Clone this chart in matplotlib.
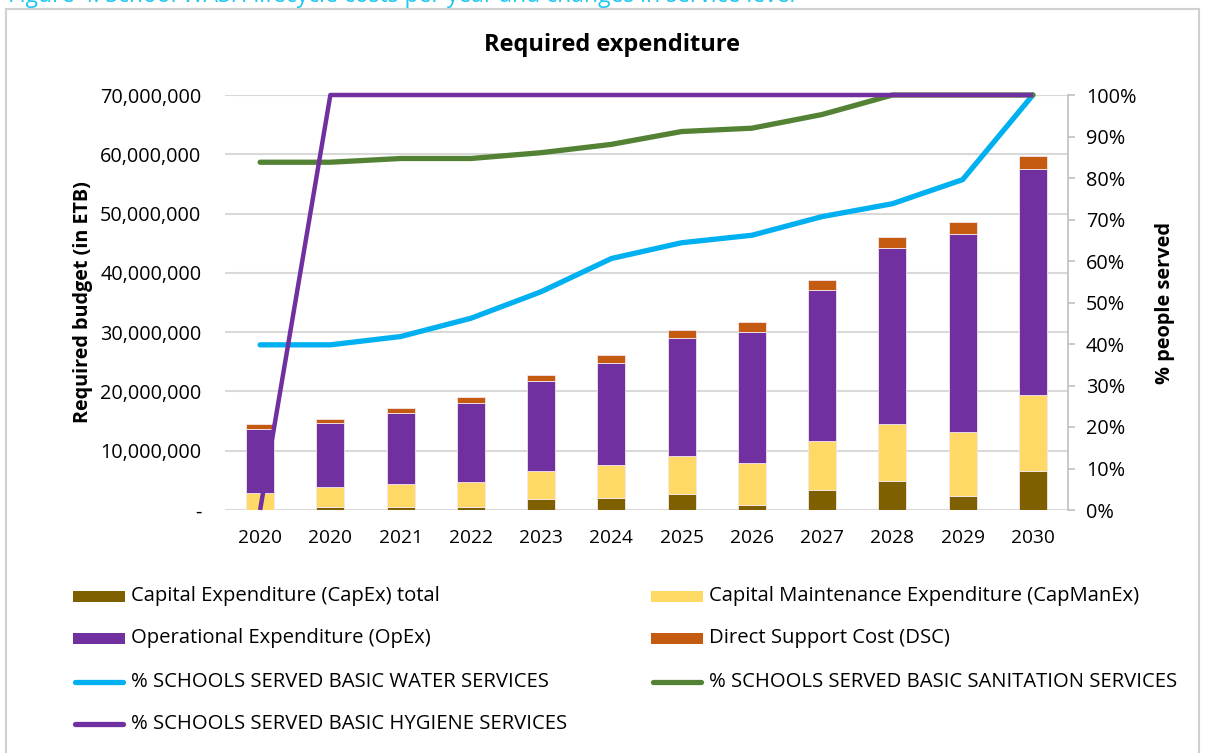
import matplotlib
matplotlib.use("Agg")
import matplotlib.pyplot as plt
import numpy as np
from matplotlib.ticker import FuncFormatter, FixedLocator
from matplotlib.patches import Rectangle
from matplotlib.lines import Line2D

plt.rcParams["font.family"] = ["Open Sans", "DejaVu Sans"]

# ---- data -------------------------------------------------------------
years = ["2020", "2020", "2021", "2022", "2023", "2024",
         "2025", "2026", "2027", "2028", "2029", "2030"]

capex = [0, 450_000, 560_000, 450_000, 1_800_000, 2_070_000,
         2_640_000, 900_000, 3_430_000, 4_950_000, 2_360_000, 6_580_000]
capmanex = [2_920_000, 3_380_000, 3_770_000, 4_220_000, 4_830_000, 5_570_000,
            6_460_000, 7_080_000, 8_270_000, 9_600_000, 10_840_000, 12_820_000]
opex = [10_680_000, 10_770_000, 11_970_000, 13_330_000, 15_070_000, 17_160_000,
        19_850_000, 22_090_000, 25_400_000, 29_650_000, 33_300_000, 38_050_000]
dsc = [900_000, 800_000, 900_000, 1_000_000, 1_150_000, 1_300_000,
       1_400_000, 1_580_000, 1_700_000, 1_900_000, 2_100_000, 2_250_000]

water = [39.8, 39.8, 41.8, 46.2, 52.6, 60.6, 64.4, 66.2, 70.7, 73.8, 79.6, 100]
sanitation = [83.8, 83.8, 84.7, 84.7, 86.1, 88.1, 91.2, 92.0, 95.3, 100, 100, 100]
hygiene = [0, 100, 100, 100, 100, 100, 100, 100, 100, 100, 100, 100]

bar_labels = ["Capital Expenditure (CapEx) total",
              "Capital Maintenance Expenditure (CapManEx)",
              "Operational Expenditure (OpEx)",
              "Direct Support Cost (DSC)"]
line_labels = ["% SCHOOLS SERVED BASIC WATER SERVICES",
               "% SCHOOLS SERVED BASIC SANITATION SERVICES",
               "% SCHOOLS SERVED BASIC HYGIENE SERVICES"]

# ---- style ------------------------------------------------------------
C_CAPEX = "#7F6000"
C_CAPMAN = "#FFD966"
C_OPEX = "#7030A0"
C_DSC = "#C55A11"
C_WATER = "#00B0F0"
C_SAN = "#548235"
C_HYG = "#7030A0"
GRID = "#D9D9D9"

W, H = 1208, 753
fig = plt.figure(figsize=(W / 100, H / 100), dpi=100)


def fx(px):
    return px / W


def fy(py):
    return 1 - py / H


# frame around the figure and the caption running off its top edge
fig.patches.append(Rectangle((fx(6), fy(760)), fx(1199) - fx(6), fy(9) - fy(760),
                             transform=fig.transFigure, fill=False,
                             edgecolor="#D0D0D0", linewidth=1.5))
fig.text(fx(8), fy(2), "Figure 4: School WASH lifecycle costs per year and changes in service level",
         color="#1EC8F0", fontsize=16.5, ha="left", va="baseline")

ax = fig.add_axes([fx(225), fy(510), fx(1068) - fx(225), fy(95) - fy(510)])

x = np.arange(len(years))
bw = 0.40
bottoms = np.zeros(len(years))
for vals, col in zip([capex, capmanex, opex, dsc], [C_CAPEX, C_CAPMAN, C_OPEX, C_DSC]):
    ax.bar(x, vals, bw, bottom=bottoms, color=col, edgecolor="#F3E6EE",
           linewidth=0.6, zorder=3)
    bottoms += np.array(vals)

ax.set_xlim(-0.5, len(years) - 0.5)
ax.set_ylim(0, 70_000_000)
ax.yaxis.set_major_locator(FixedLocator(np.arange(0, 70_000_001, 10_000_000)))
ax.yaxis.set_major_formatter(FuncFormatter(lambda v, p: "-" if v == 0 else f"{v:,.0f}"))
ax.set_xticks(x)
ax.set_xticklabels(years)
ax.grid(axis="y", color=GRID, linewidth=1.5, zorder=0)
ax.set_axisbelow(True)
for s in ax.spines.values():
    s.set_visible(False)
ax.tick_params(axis="y", length=0, pad=17, labelsize=14.3)
ax.tick_params(axis="x", length=0, pad=14, labelsize=13.8)
ax.set_ylabel("Required budget (in ETB)", fontsize=14.2, fontweight="bold", labelpad=5)

ax2 = ax.twinx()
ax2.set_ylim(0, 100)
ax2.yaxis.set_major_locator(FixedLocator(np.arange(0, 101, 10)))
ax2.yaxis.set_major_formatter(FuncFormatter(lambda v, p: f"{v:.0f}%"))
for s in ["top", "left", "bottom"]:
    ax2.spines[s].set_visible(False)
ax2.spines["right"].set_color("#BFBFBF")
ax2.spines["right"].set_linewidth(1.2)
ax2.tick_params(axis="y", length=5, width=1.2, color="#BFBFBF", pad=8, labelsize=14.3)
ax2.set_ylabel("% people served", fontsize=14.4, fontweight="bold", labelpad=13)

ax2.plot(x, water, color=C_WATER, linewidth=3.8, solid_capstyle="round",
         solid_joinstyle="round", clip_on=False, zorder=4)
ax2.plot(x, sanitation, color=C_SAN, linewidth=3.8, solid_capstyle="round",
         solid_joinstyle="round", clip_on=False, zorder=4)
ax2.plot(x, hygiene, color=C_HYG, linewidth=3.2, solid_capstyle="butt",
         solid_joinstyle="round", clip_on=False, zorder=5)

fig.text(fx(612), fy(45), "Required expenditure", ha="center", va="center",
         fontsize=17, fontweight="bold")

# ---- legend (two columns) ---------------------------------------------
rows = [596, 638, 682, 724]
entries = [
    ("bar", C_CAPEX, bar_labels[0], 73, rows[0]),
    ("bar", C_CAPMAN, bar_labels[1], 651, rows[0]),
    ("bar", C_OPEX, bar_labels[2], 73, rows[1]),
    ("bar", C_DSC, bar_labels[3], 651, rows[1]),
    ("line", C_WATER, line_labels[0], 73, rows[2]),
    ("line", C_SAN, line_labels[1], 651, rows[2]),
    ("line", C_HYG, line_labels[2], 73, rows[3]),
]
for kind, col, lab, x0, yc in entries:
    if kind == "bar":
        fig.patches.append(Rectangle((fx(x0), fy(yc + 5.5)), fx(52), 11 / H,
                                     transform=fig.transFigure, facecolor=col,
                                     edgecolor="none"))
    else:
        fig.lines.append(Line2D([fx(x0 + 2), fx(x0 + 50)], [fy(yc), fy(yc)],
                                transform=fig.transFigure, color=col,
                                linewidth=3.8, solid_capstyle="round"))
    fig.text(fx(x0 + 58), fy(yc), lab, ha="left", va="center", fontsize=14.6)

fig.savefig("out.png", dpi=100)
